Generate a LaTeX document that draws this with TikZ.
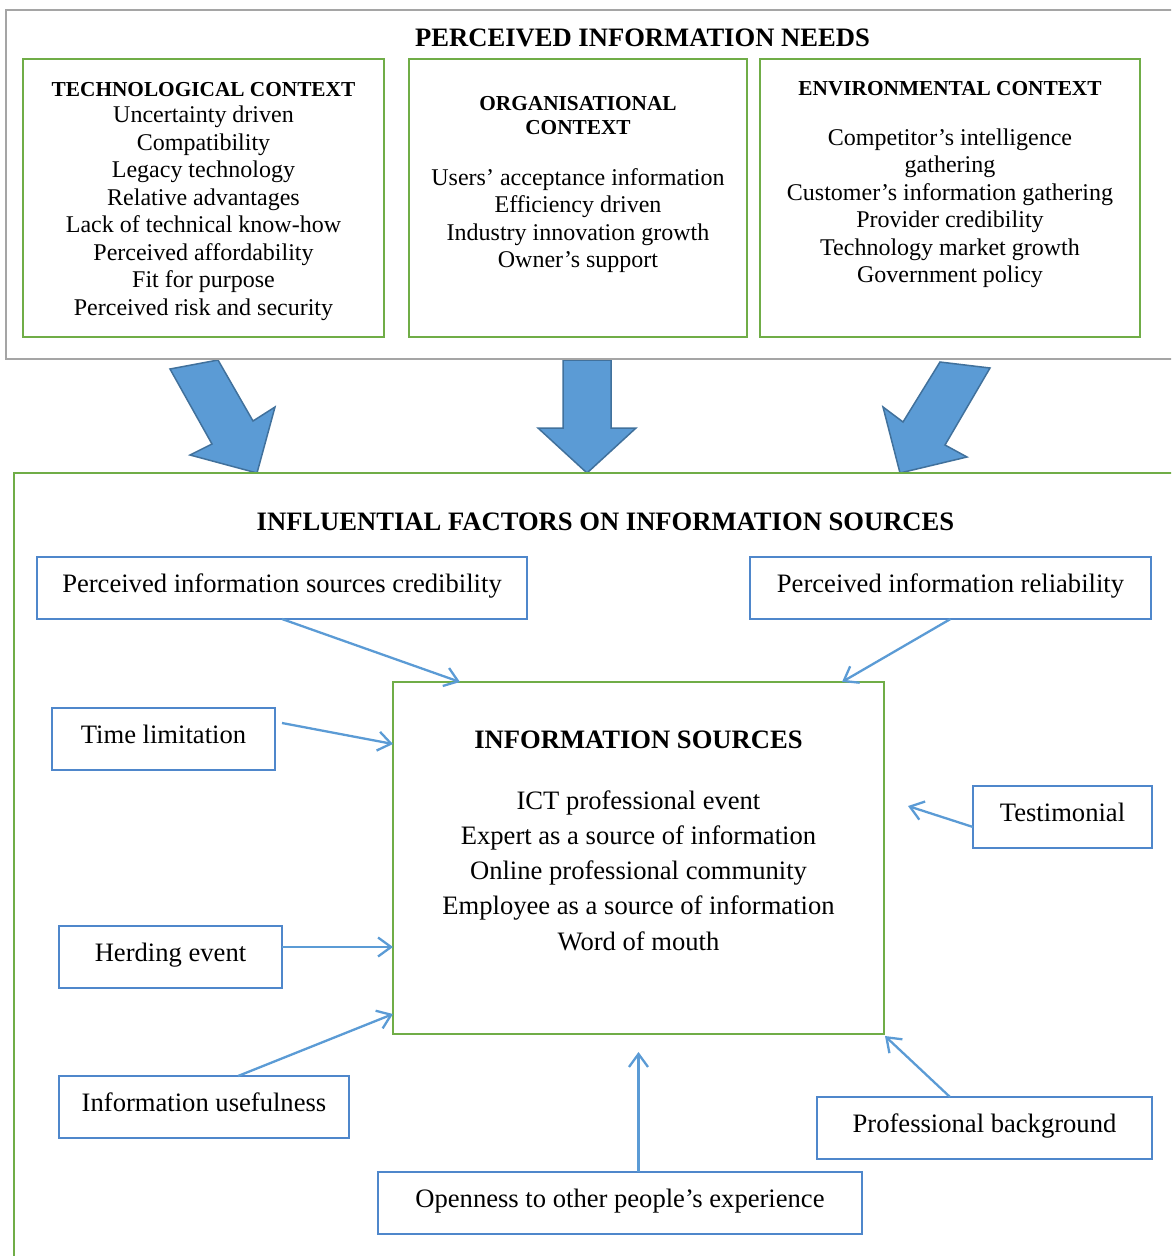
\documentclass[tikz,border=0pt]{standalone}
\usepackage{fontspec}
\setmainfont{Liberation Serif}
\usetikzlibrary{calc,arrows.meta}
\definecolor{grn}{HTML}{70AD47}
\definecolor{gry}{HTML}{A5A5A5}
\definecolor{blu}{HTML}{5B9BD5}
\definecolor{bboxc}{HTML}{4F87CB}
\definecolor{arrfill}{HTML}{5B9BD5}
\definecolor{arredge}{HTML}{41719C}
\begin{document}
\begin{tikzpicture}[x=1pt,y=-1pt,
  every node/.style={outer sep=0pt},
  greybox/.style={draw=gry, line width=2.8pt, inner sep=0pt, anchor=north west},
  greenbox/.style={draw=grn, line width=2.7pt, inner sep=0pt, anchor=north west},
  ctxbox/.style={greenbox, minimum height=278pt},
  bluebox/.style={draw=bboxc, line width=2pt, inner sep=0pt, anchor=north west,
    minimum height=62pt, text height=35pt, text depth=27pt,
    font=\fontsize{26.6}{30}\selectfont},
  ctxtitle/.style={anchor=north, inner sep=0pt, align=center, font=\fontsize{21.3}{24.5}\selectfont\bfseries},
  ctxbody/.style={anchor=north, inner sep=0pt, align=center, font=\fontsize{24}{27.5}\selectfont},
  bigtitle/.style={anchor=base, inner sep=0pt, font=\fontsize{26.6}{30}\selectfont\bfseries},
  srcbody/.style={anchor=north, inner sep=0pt, align=center, font=\fontsize{26.6}{35.2}\selectfont},
  bigarrow/.style={fill=arrfill, draw=arredge, line width=1.5pt, line join=miter},
  conn/.style={draw=blu, line width=2.3pt, -{Straight Barb[length=13pt,width=19pt]}}
]
\path[use as bounding box] (0,0) rectangle (1171,1256);
\clip (0,0) rectangle (1171,1256);

% block arrows
\draw[bigarrow] (170,369) -- (212,444) -- (190,455) -- (257,473) -- (275,407) -- (253,421) -- (218,360) -- cycle;
\draw[bigarrow] (563,360) -- (563,428) -- (538,428) -- (587,473) -- (636,428) -- (611,428) -- (611,360) -- cycle;
\draw[bigarrow] (940,362) -- (903,422) -- (883,407) -- (900,473) -- (967,457) -- (945,445) -- (990,368) -- cycle;

% frames
\node[greybox, minimum width=1180pt, minimum height=349pt] (needs) at (6,10) {};
\node[greenbox, minimum width=1180pt, minimum height=820pt] (factors) at (14,473) {};

% top part
\node[bigtitle] (needstitle) at (642.5,46) {PERCEIVED INFORMATION NEEDS};

\node[ctxbox, minimum width=361pt] (tech) at (23,59) {};
\node[ctxbox, minimum width=338pt] (org) at (409,59) {};
\node[ctxbox, minimum width=380pt] (env) at (760,59) {};

\node[ctxtitle] (techtitle) at (203.5,78.85) {\strut TECHNOLOGICAL CONTEXT};
\node[ctxbody] (techbody) at (203.5,103.45) {\strut Uncertainty driven\\Compatibility\\Legacy technology\\Relative advantages\\Lack of technical know-how\\Perceived affordability\\Fit for purpose\\Perceived risk and security};

\node[ctxtitle] (orgtitle) at (578,92.85) {\strut ORGANISATIONAL\\CONTEXT};
\node[ctxbody] (orgbody) at (578,165.75) {\strut Users’ acceptance information\\Efficiency driven\\Industry innovation growth\\Owner’s support};

\node[ctxtitle] (envtitle) at (950,77.85) {\strut ENVIRONMENTAL CONTEXT};
\node[ctxbody] (envbody) at (950,125.75) {\strut Competitor’s intelligence\\gathering\\Customer’s information gathering\\Provider credibility\\Technology market growth\\Government policy};

% bottom part
\node[bigtitle] (factitle) at (605.5,530) {INFLUENTIAL FACTORS ON INFORMATION SOURCES};

\node[greenbox, minimum width=491pt, minimum height=352pt] (src) at (393,682) {};
\node[bigtitle] (srctitle) at (638.5,748) {INFORMATION SOURCES};
\node[srcbody] (srcbody) at (638.5,784.66) {\strut ICT professional event\\Expert as a source of information\\Online professional community\\Employee as a source of information\\Word of mouth};

\node[bluebox, minimum width=490pt] (cred) at (37,557) {Perceived information sources credibility};
\node[bluebox, minimum width=401pt] (rel) at (750,557) {Perceived information reliability};
\node[bluebox, minimum width=223pt] (time) at (52,708) {Time limitation};
\node[bluebox, minimum width=179pt] (test) at (973,786) {Testimonial};
\node[bluebox, minimum width=223pt] (herd) at (59,926) {Herding event};
\node[bluebox, minimum width=290pt] (use) at (59,1076) {Information usefulness};
\node[bluebox, minimum width=335pt] (prof) at (817,1097) {Professional background};
\node[bluebox, minimum width=484pt] (open) at (378,1172) {Openness to other people’s experience};

% connectors
\draw[conn] (cred.south) -- ($(src.north west)+(67,0)$);
\draw[conn] (rel.south) -- ($(src.north east)+(-42,0)$);
\draw[conn] ($(time.east)+(7,-16)$) -- ($(src.north west)+(0,62)$);
\coordinate (testend) at ($(src.east)+(24,-52)$);
\draw[conn] ($(test.west)+(0,10)$) -- (testend);
\draw[conn] ($(herd.east)+(0,-10)$) -- ($(src.north west)+(0,265)$);
\draw[conn] ($(use.north)+(34,0)$) -- ($(src.south west)+(0,-20)$);
\draw[conn] ($(open.north)+(18.5,0)$) -- ($(src.south)+(0,18)$);
\draw[conn] ($(prof.north)+(-34.5,0)$) -- ($(src.south east)+(1,2)$);
\end{tikzpicture}
\end{document}
